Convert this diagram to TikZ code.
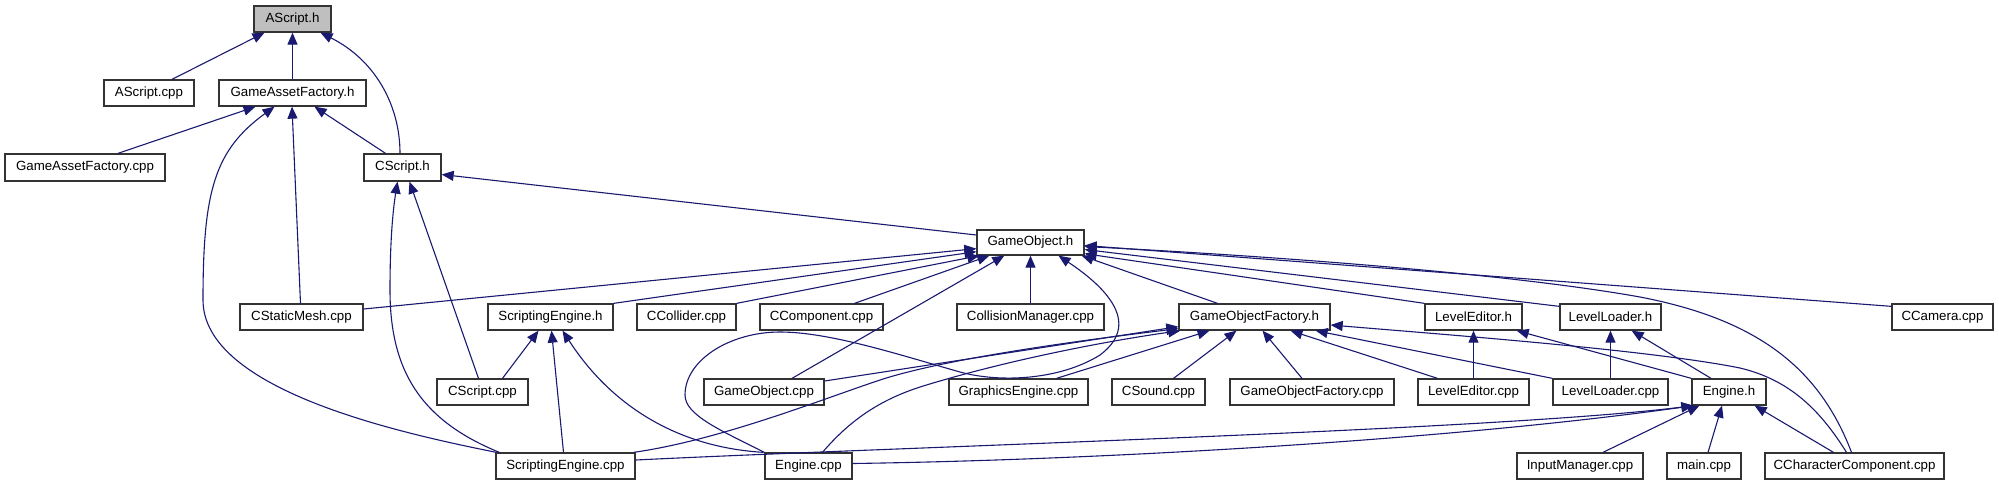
\documentclass[tikz,border=0pt]{standalone}
\usepackage{fontspec}
\setmainfont{Liberation Sans}
\usetikzlibrary{arrows.meta}
\definecolor{edgecol}{HTML}{191970}
\definecolor{boxline}{HTML}{333333}
\definecolor{rootfill}{HTML}{BFBFBF}
\begin{document}
\begin{tikzpicture}[x=1pt,y=-1pt,
  box/.style={draw=boxline, line width=1.3pt, fill=white, minimum height=26pt, inner sep=0pt, font=\fontsize{13.3}{15}\selectfont},
  edge/.style={draw=edgecol, line width=1.1pt, -{Triangle[length=12pt,width=10pt]}}]
\useasboundingbox (0,0) rectangle (1999,485);
% row 1-3
\node[box, fill=rootfill, minimum width=77pt] (ash) at (292.5,19) {AScript.h};
\node[box, minimum width=90pt] (ascpp) at (149,93) {AScript.cpp};
\node[box, minimum width=147pt] (gafh) at (292.5,93) {GameAssetFactory.h};
\node[box, minimum width=160pt, minimum height=27pt] (gafcpp) at (85,167.5) {GameAssetFactory.cpp};
\node[box, minimum width=77pt, minimum height=27pt] (csh) at (402.5,167.5) {CScript.h};
\node[box, minimum width=107pt, minimum height=25pt] (goh) at (1030.5,242.5) {GameObject.h};
% row 4
\node[box, minimum width=123pt] (smcpp) at (301.5,317) {CStaticMesh.cpp};
\node[box, minimum width=125pt] (seh) at (550.5,317) {ScriptingEngine.h};
\node[box, minimum width=99pt] (colcpp) at (686.5,317) {CCollider.cpp};
\node[box, minimum width=123pt] (compcpp) at (821.5,317) {CComponent.cpp};
\node[box, minimum width=147pt] (cmcpp) at (1030.5,317) {CollisionManager.cpp};
\node[box, minimum width=151pt] (gofh) at (1254.5,317) {GameObjectFactory.h};
\node[box, minimum width=97pt] (leh) at (1473.5,317) {LevelEditor.h};
\node[box, minimum width=101pt] (llh) at (1610.5,317) {LevelLoader.h};
\node[box, minimum width=101pt] (camcpp) at (1942.5,317) {CCamera.cpp};
% row 5
\node[box, minimum width=91pt] (cscpp) at (482.5,392) {CScript.cpp};
\node[box, minimum width=120pt] (gocpp) at (764,392) {GameObject.cpp};
\node[box, minimum width=139pt] (gecpp) at (1018.5,392) {GraphicsEngine.cpp};
\node[box, minimum width=93pt] (sndcpp) at (1158.5,392) {CSound.cpp};
\node[box, minimum width=164pt] (gofcpp) at (1312,392) {GameObjectFactory.cpp};
\node[box, minimum width=111pt] (lecpp) at (1473.5,392) {LevelEditor.cpp};
\node[box, minimum width=115pt] (llcpp) at (1610.5,392) {LevelLoader.cpp};
\node[box, minimum width=74pt] (engh) at (1729,392) {Engine.h};
% row 6
\node[box, minimum width=139pt] (secpp) at (565.5,466) {ScriptingEngine.cpp};
\node[box, minimum width=87pt] (engcpp) at (808.5,466) {Engine.cpp};
\node[box, minimum width=126pt] (imcpp) at (1580,466) {InputManager.cpp};
\node[box, minimum width=74pt] (maincpp) at (1704,466) {main.cpp};
\node[box, minimum width=179pt] (cccpp) at (1854.5,466) {CCharacterComponent.cpp};
% edges to AScript.h
\draw[edge] ([xshift=23pt]ascpp.north) -- ([xshift=-28pt]ash.south);
\draw[edge] (gafh.north) -- (ash.south);
\draw[edge] ([xshift=-2.5pt]csh.north) .. controls (400,105) and (375,60) .. ([xshift=28pt]ash.south);
% edges to GameAssetFactory.h
\draw[edge] ([xshift=33pt]gafcpp.north) -- ([xshift=-37pt]gafh.south);
\draw[edge] ([xshift=1pt]secpp.north west) .. controls (400,433) and (203,390) .. (203,300) .. controls (203,190) and (215,150) .. ([xshift=-18pt]gafh.south);
\draw[edge] ([xshift=-1pt]smcpp.north) -- ([xshift=-0.5pt]gafh.south);
\draw[edge] ([xshift=-17pt]csh.north) -- ([xshift=22pt]gafh.south);
% edges to CScript.h
\draw[edge] ([yshift=7.5pt]goh.west) -- ([yshift=-7pt]csh.east);
\draw[edge] ([xshift=4pt]secpp.north west) .. controls (420,420) and (390,370) .. (390,290) .. controls (390,240) and (393,210) .. ([xshift=-5pt]csh.south);
\draw[edge] ([xshift=-4pt]cscpp.north) -- ([xshift=7pt]csh.south);
% edges to GameObject.h
\draw[edge] ([yshift=8pt]smcpp.east) -- ([yshift=7pt]goh.south west);
\draw[edge] (seh.north east) -- ([yshift=4pt]goh.south west);
\draw[edge] (colcpp.north east) -- ([xshift=3pt]goh.south west);
\draw[edge] ([xshift=33pt]compcpp.north) -- ([xshift=13pt]goh.south west);
\draw[edge] ([xshift=28pt]gocpp.north) -- ([xshift=28pt]goh.south west);
\draw[edge] (cmcpp.north) -- (cmcpp.north |- goh.south);
\draw[edge] (engcpp.north west) .. controls (720,430) and (685,415) .. (685,395) .. controls (685,360) and (730,332) .. (780,332) .. controls (830,332) and (900,355) .. (960,372) .. controls (1000,383) and (1060,380) .. (1100,355) .. controls (1140,325) and (1110,290) .. ([xshift=28pt]goh.south);
\draw[edge] ([xshift=-37pt]gofh.north) -- ([xshift=-3pt]goh.south east);
\draw[edge] (leh.north west) -- ([yshift=2pt]goh.south east);
\draw[edge] ([yshift=-3pt]llh.north west) -- ([yshift=-7pt]goh.east);
\draw[edge] ([xshift=-3pt]cccpp.north) .. controls (1820,370) and (1760,320) .. (1640,297) .. controls (1500,272) and (1250,255) .. ([yshift=-4pt]goh.east);
\draw[edge] ([yshift=-3pt]camcpp.north west) -- ([yshift=-3pt]goh.east);
% edges to GameObjectFactory.h
\draw[edge] ([yshift=11pt]gocpp.east) -- ([yshift=4pt]gofh.south west);
\draw[edge] ([xshift=-2pt]secpp.north east) .. controls (720,440) and (820,400) .. (880,380) .. controls (950,357) and (1100,338) .. ([yshift=2pt]gofh.south west);
\draw[edge] ([xshift=14pt]engcpp.north) .. controls (850,420) and (880,400) .. (920,387) .. controls (1000,362) and (1100,342) .. ([xshift=2pt]gofh.south west);
\draw[edge] ([xshift=38pt]gecpp.north) -- ([xshift=-45pt]gofh.south);
\draw[edge] ([xshift=15pt]sndcpp.north) -- ([xshift=-18pt]gofh.south);
\draw[edge] ([xshift=-10pt]gofcpp.north) -- ([xshift=8pt]gofh.south);
\draw[edge] ([xshift=-36pt]lecpp.north) -- ([xshift=36pt]gofh.south);
\draw[edge] (llcpp.north west) -- ([xshift=-15pt]gofh.south east);
\draw[edge] ([xshift=-8pt]cccpp.north) .. controls (1820,410) and (1790,380) .. (1740,368) .. controls (1650,350) and (1450,335) .. ([yshift=-8pt]gofh.east);
% edges to LevelEditor.h / LevelLoader.h
\draw[edge] (lecpp.north) -- (leh.south);
\draw[edge] (engh.north west) -- ([xshift=-6pt]leh.south east);
\draw[edge] (llcpp.north) -- (llh.south);
\draw[edge] ([xshift=-18pt]engh.north) -- ([xshift=-30pt]llh.south east);
% edges to Engine.h
\draw[edge] ([yshift=6pt]secpp.east) .. controls (900,447) and (1500,430) .. ([xshift=2pt]engh.south west);
\draw[edge] ([yshift=2.5pt]engcpp.east) .. controls (1100,460) and (1450,440) .. ([xshift=2pt]engh.south west);
\draw[edge] ([xshift=23pt]imcpp.north) -- ([xshift=8pt]engh.south west);
\draw[edge] ([xshift=4pt]maincpp.north) -- ([xshift=-7pt]engh.south);
\draw[edge] ([xshift=-21pt]cccpp.north) -- ([xshift=-12pt]engh.south east);
% edges to ScriptingEngine.h
\draw[edge] ([xshift=20pt]cscpp.north) -- ([xshift=-12pt]seh.south);
\draw[edge] ([xshift=-2pt]secpp.north) -- ([xshift=1pt]seh.south);
\draw[edge] ([xshift=-1pt]engcpp.north west) .. controls (640,445) and (585,365) .. ([xshift=12pt]seh.south);
\end{tikzpicture}
\end{document}
